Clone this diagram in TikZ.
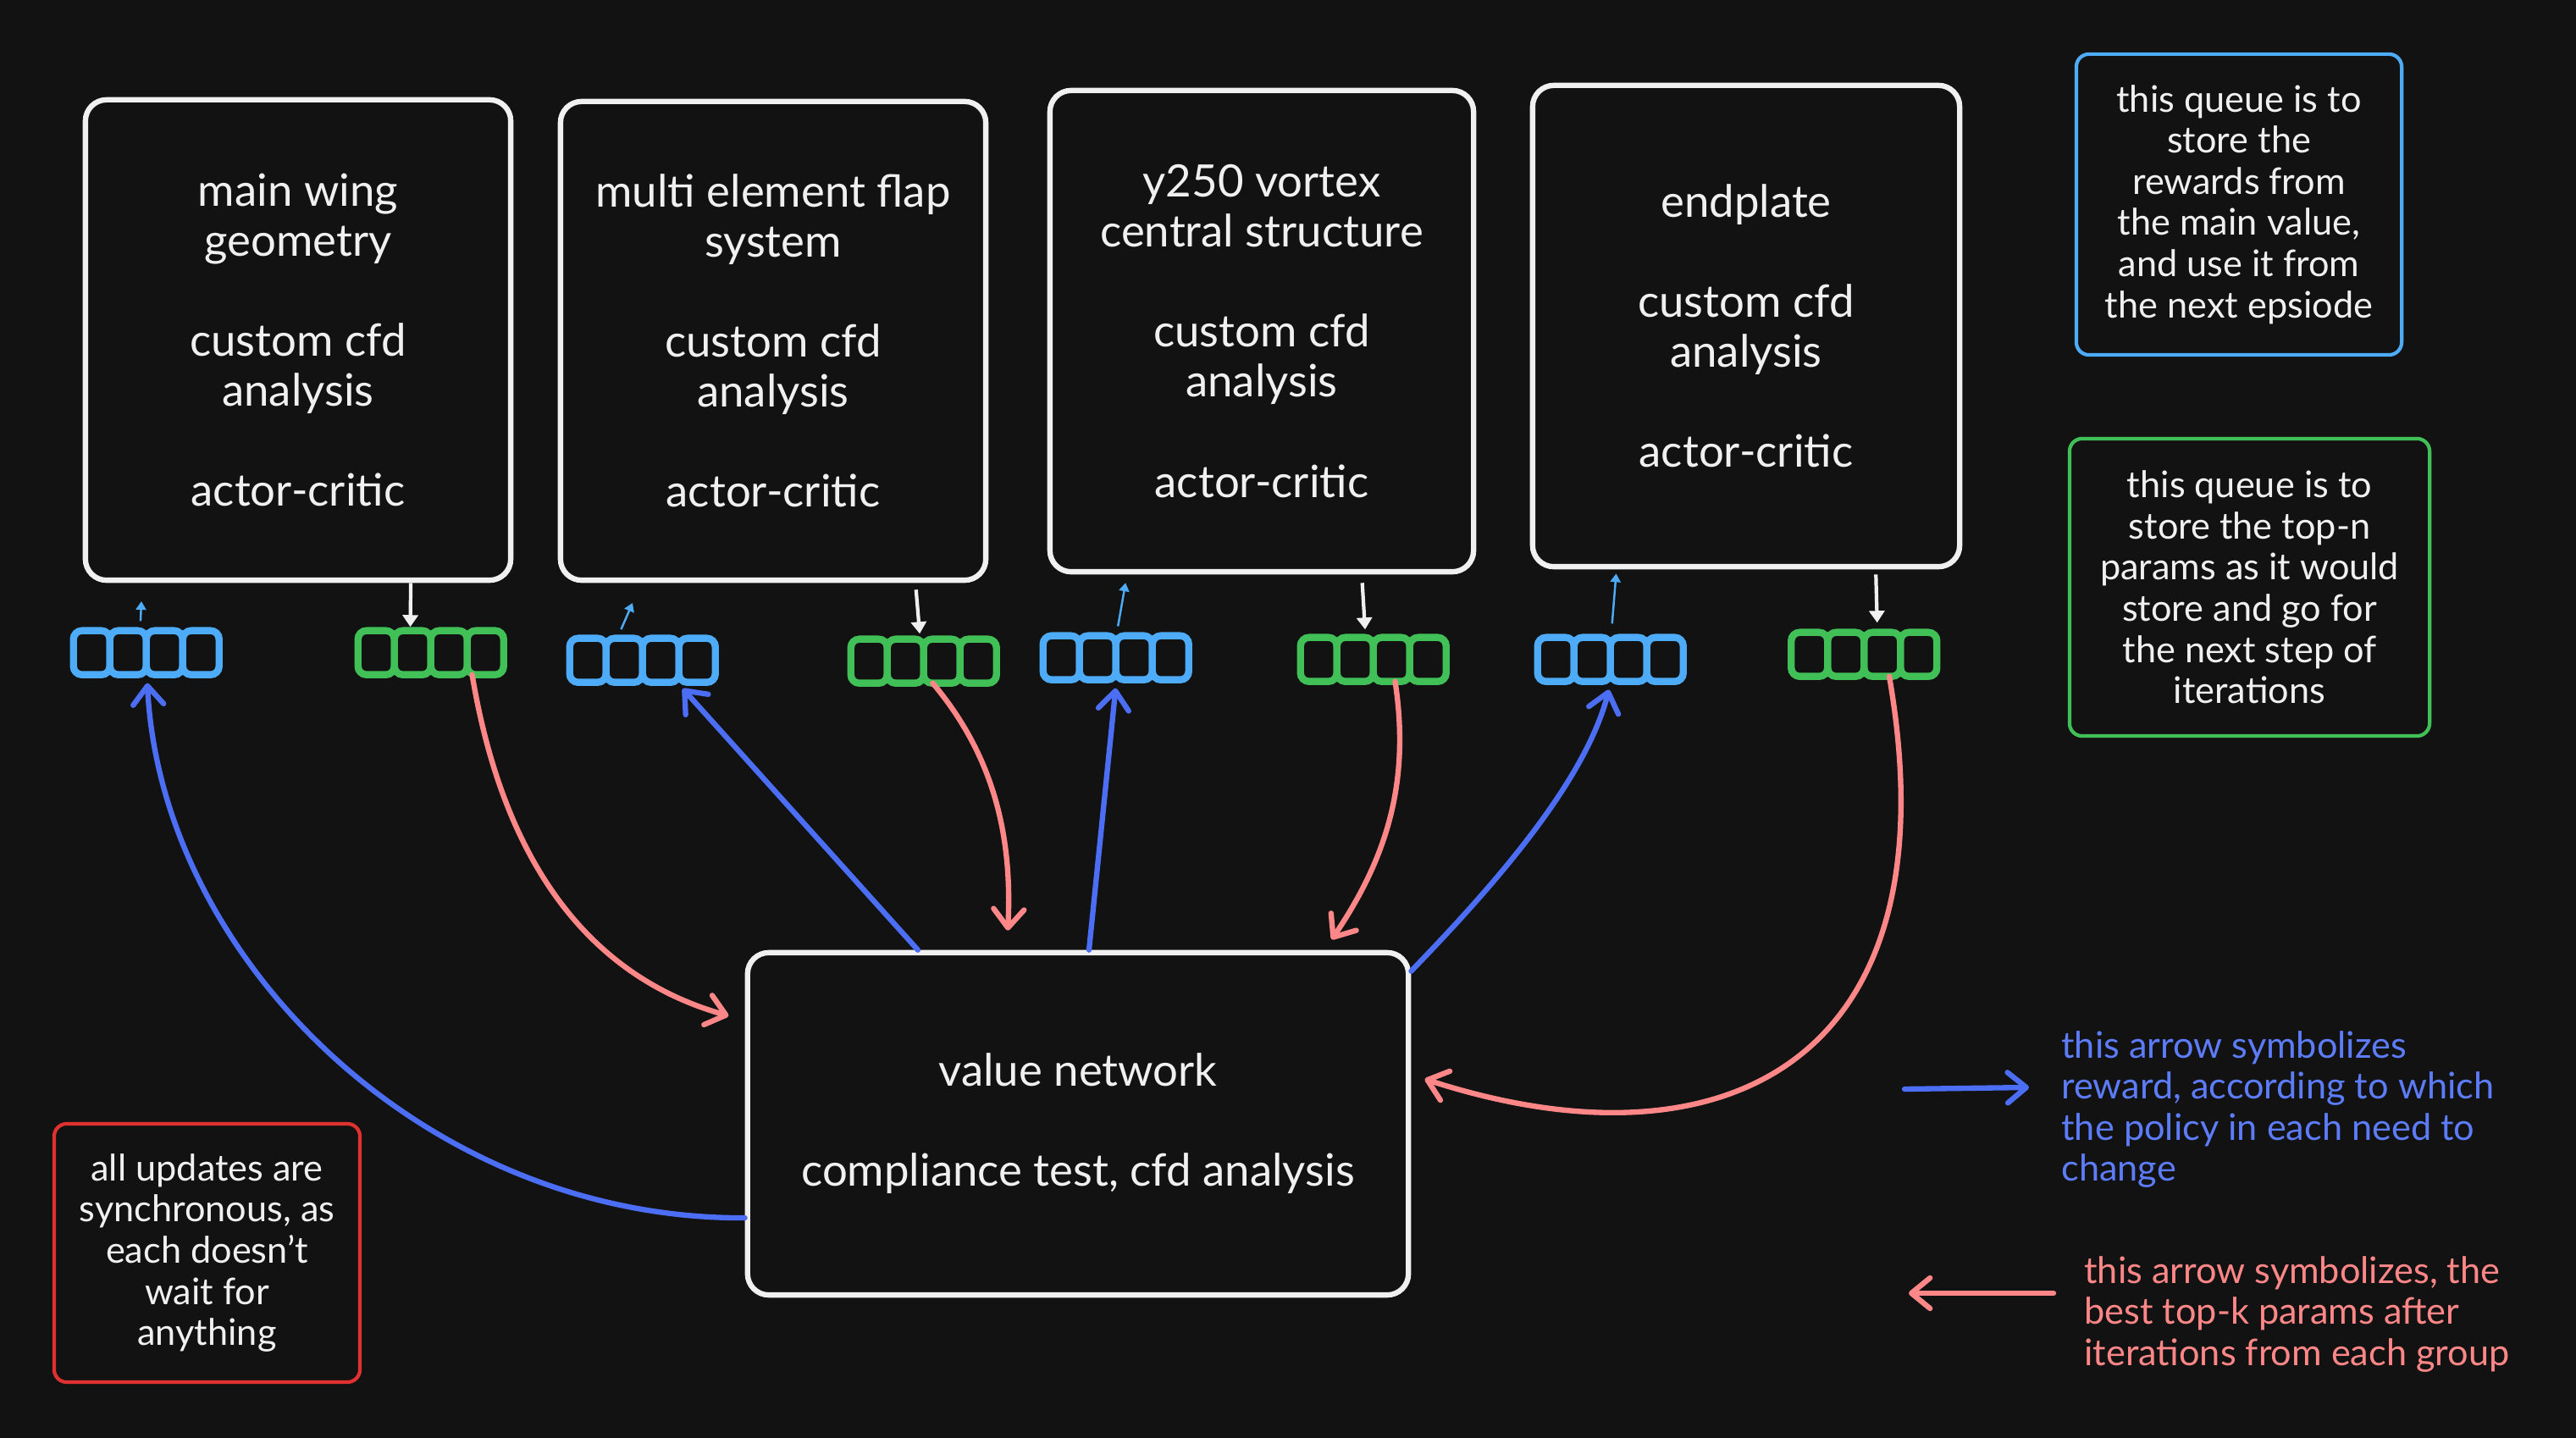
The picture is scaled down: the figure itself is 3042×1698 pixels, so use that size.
\documentclass[tikz,border=0pt]{standalone}
\usepackage{fontspec}
\setmainfont{Lato}
\usetikzlibrary{arrows.meta}

\definecolor{bg}{HTML}{121212}
\definecolor{fg}{HTML}{F0F0F0}
\definecolor{qblue}{HTML}{4DABF7}
\definecolor{qgreen}{HTML}{40C057}
\definecolor{rblue}{HTML}{4C6EF5}
\definecolor{tblue}{HTML}{5C7CFA}
\definecolor{pred}{HTML}{FF8787}
\definecolor{nred}{HTML}{E03131}

\newcommand{\boxfont}{\fontsize{15}{16.8}\selectfont}
\newcommand{\notefont}{\fontsize{12.3}{13.8}\selectfont}
\newcommand{\blank}{\\[16.8pt]}
\newcommand{\cells}[2]{%
  \foreach \i in {0,...,3}
    \draw[cell, draw=#2] (#1.south west) ++(\i*43,0) rectangle ++(43,-52);}

\tikzset{
  box/.style={draw=fg, line width=1.8pt, rounded corners=2.5mm, align=center, text=fg, font=\boxfont},
  note/.style={line width=1.2pt, rounded corners=1.5mm, align=center, text=fg, font=\notefont},
  queue/.style={minimum width=1.72cm, minimum height=0.52cm, inner sep=0pt},
  cell/.style={line width=2.4pt, rounded corners=1mm},
  reward/.style={draw=rblue, line width=1.8pt, line cap=round, shorten >=1mm,
    -{Straight Barb[length=2.2mm, width=3.6mm, line cap=round, line join=round]}},
  params/.style={draw=pred, line width=1.8pt, line cap=round, shorten >=1mm,
    -{Straight Barb[length=2.2mm, width=3.6mm, line cap=round, line join=round]}},
  feed/.style={draw=fg, line width=1.2pt, -{Triangle[length=1.4mm, width=1.8mm]}},
  pull/.style={draw=qblue, line width=0.7pt, -{Triangle[length=1mm, width=1.2mm]}}
}

\begin{document}
\begin{tikzpicture}[x=0.01cm, y=-0.01cm]
    \useasboundingbox[fill=bg] (0,0) rectangle (3042,1698);

    % Groups
    \node[box, minimum width=5.02cm, minimum height=5.67cm] (wing) at (352,401.5)
        {main wing\\geometry\blank custom cfd\\analysis\blank actor-critic};
    \node[box, minimum width=5.02cm, minimum height=5.65cm] (flap) at (913,402.5)
        {multi element flap\\system\blank custom cfd\\analysis\blank actor-critic};
    \node[box, minimum width=5.00cm, minimum height=5.68cm] (vortex) at (1490,391)
        {y250 vortex\\central structure\blank custom cfd\\analysis\blank actor-critic};
    \node[box, minimum width=5.04cm, minimum height=5.68cm] (endplate) at (2062,385)
        {endplate\blank custom cfd\\analysis\blank actor-critic};

    \node[box, minimum width=7.80cm, minimum height=4.04cm] (value) at (1273,1327)
        {value network\blank compliance test, cfd analysis};

    % Notes
    \node[note, draw=qblue, minimum width=3.84cm, minimum height=3.55cm] (n_reward) at (2644,241.5)
        {this queue is to\\store the\\rewards from\\the main value,\\and use it from\\the next epsiode};
    \node[note, draw=qgreen, minimum width=4.25cm, minimum height=3.51cm] (n_params) at (2656.5,693.5)
        {this queue is to\\store the top-n\\params as it would\\store and go for\\the next step of\\iterations};
    \node[note, draw=nred, minimum width=3.61cm, minimum height=3.05cm] (n_sync) at (244.5,1479.5)
        {all updates are\\synchronous, as\\each doesn't\\wait for\\anything};

    % Legend
    \node[anchor=west, align=left, text=tblue, font=\notefont] (l_reward) at (2422,1310)
        {this arrow symbolizes\\reward, according to which\\the policy in each need to\\change};
    \node[anchor=west, align=left, text=pred, font=\notefont] (l_params) at (2449,1552)
        {this arrow symbolizes, the\\best top-k params after\\iterations from each group};

    % Queues
    \node[queue] (r_wing) at (173.5,770) {};     \cells{r_wing}{qblue}
    \node[queue] (p_wing) at (509.5,770) {};     \cells{p_wing}{qgreen}
    \node[queue] (r_flap) at (759.5,779) {};     \cells{r_flap}{qblue}
    \node[queue] (p_flap) at (1091.5,780) {};    \cells{p_flap}{qgreen}
    \node[queue] (r_vortex) at (1318.5,776) {};  \cells{r_vortex}{qblue}
    \node[queue] (p_vortex) at (1622.5,778) {};  \cells{p_vortex}{qgreen}
    \node[queue] (r_end) at (1902.5,778) {};     \cells{r_end}{qblue}
    \node[queue] (p_end) at (2202,772) {};       \cells{p_end}{qgreen}

    % Group <-> queues
    \coordinate (c_wing) at (167,710);
    \coordinate (c_flap) at (747,712);
    \draw[pull, shorten <=1mm] ([xshift=-0.08cm]r_wing.north) -- (c_wing);
    \draw[pull, shorten <=1mm] ([xshift=-0.3cm]r_flap.north) -- (c_flap);
    \draw[pull, shorten <=1mm, shorten >=1mm] (r_vortex.north) -- ([xshift=-1.59cm]vortex.south);
    \draw[pull, shorten <=1.5mm, shorten >=0.5mm] (r_end.north) -- ([xshift=-1.53cm]endplate.south);

    \draw[feed, shorten >=0.3mm] ([xshift=1.33cm]wing.south) -- ([xshift=-0.25cm]p_wing.north);
    \draw[feed, shorten <=0.8mm, shorten >=0.5mm] ([xshift=1.68cm]flap.south) -- ([xshift=-0.05cm]p_flap.north);
    \draw[feed, shorten <=1mm, shorten >=0.8mm] ([xshift=1.18cm]vortex.south) -- ([xshift=-0.1cm]p_vortex.north);
    \draw[feed, shorten <=0.6mm, shorten >=1mm] ([xshift=1.53cm]endplate.south) -- ([xshift=0.15cm]p_end.north);

    % Value network <-> queues
    \draw[reward] ([yshift=-1.11cm]value.west) .. controls (500,1440) and (190,1130) .. (r_wing.south);
    \draw[params, shorten >=2mm] ([xshift=0.48cm]p_wing.south) .. controls (600,1050) and (720,1160) .. ([yshift=1.22cm]value.west);
    \draw[reward] ([xshift=-1.89cm]value.north) -- ([xshift=0.4cm]r_flap.south);
    \draw[params, shorten >=2.3mm] ([xshift=0.1cm]p_flap.south) .. controls (1180,900) and (1195,1000) .. ([xshift=-0.84cm]value.north);
    \draw[reward] ([xshift=0.13cm]value.north) -- (r_vortex.south);
    \draw[params, shorten >=1.5mm] ([xshift=0.25cm]p_vortex.south) .. controls (1665,920) and (1640,1010) .. ([xshift=2.91cm]value.north);
    \draw[reward] ([yshift=-0.25cm]value.north east) .. controls (1750,1060) and (1870,930) .. (r_end.south);
    \draw[params, shorten >=1.7mm] ([xshift=0.29cm]p_end.south) .. controls (2310,1250) and (2040,1390) .. ([yshift=0.58cm]value.east);

    % Legend arrows
    \coordinate (lr_a) at (2249,1286);
    \coordinate (lr_b) at (2396,1284);
    \coordinate (lp_a) at (2425,1527);
    \coordinate (lp_b) at (2254,1527);
    \draw[reward, shorten >=0pt] (lr_a) -- (lr_b);
    \draw[params, shorten >=0pt] (lp_a) -- (lp_b);
\end{tikzpicture}
\end{document}
